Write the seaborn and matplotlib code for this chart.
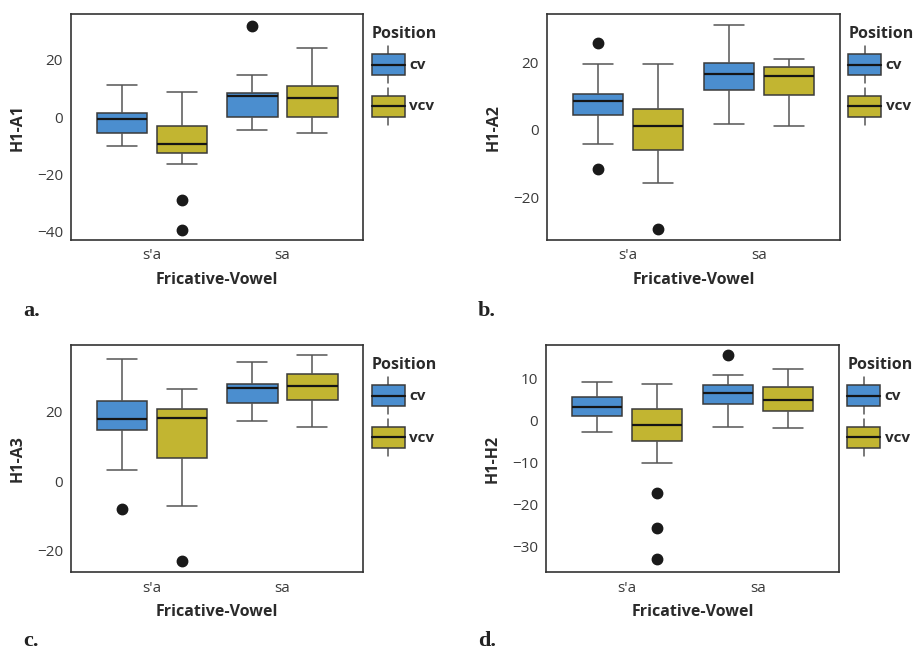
import numpy as np
import pandas as pd
import seaborn as sns
import matplotlib.pyplot as plt
from matplotlib.legend_handler import HandlerBase
from matplotlib.patches import Patch, Rectangle
from matplotlib.lines import Line2D

# values, boxes in order: s'a-cv, s'a-vcv, sa-cv, sa-vcv
measures = ["H1-A1", "H1-A2", "H1-A3", "H1-H2"]
fricatives = ["s'a", "sa"]
positions = ["cv", "vcv"]

whisk_lo = [[-9.9, -16.2, -4.5, -5.3],
            [-4.2, -15.5, 1.9, 1.3],
            [3.1, -7.1, 17.1, 15.4],
            [-2.7, -10.1, -1.6, -1.9]]
q1 = [[-5.6, -12.3, 0.1, 0.1],
      [4.3, -5.8, 11.9, 10.2],
      [14.6, 6.7, 22.2, 23.2],
      [1.0, -4.8, 4.0, 2.3]]
median = [[-0.6, -9.4, 7.6, 6.9],
          [8.4, 1.1, 16.4, 15.9],
          [17.7, 17.9, 26.5, 27.3],
          [3.2, -1.2, 6.5, 4.8]]
q3 = [[1.6, -2.9, 8.6, 10.9],
      [10.7, 6.1, 19.6, 18.6],
      [23.0, 20.6, 27.6, 30.7],
      [5.6, 2.6, 8.5, 7.8]]
whisk_hi = [[11.3, 9.0, 14.7, 24.1],
            [19.3, 19.3, 30.8, 20.8],
            [35.0, 26.3, 33.9, 36.0],
            [9.0, 8.6, 10.8, 12.2]]
outliers = [[[], [-28.8, -39.2], [31.9], []],
            [[25.5, -11.5], [-29.3], [], []],
            [[-8.1], [-22.8], [], []],
            [[], [-17.3, -25.4, -32.8], [15.5], []]]

yticks = [[-40, -20, 0, 20], [-20, 0, 20], [-20, 0, 20], [-30, -20, -10, 0, 10]]
ylims = [(-42.8, 36.0), (-32.4, 34.1), (-26.1, 38.8), (-36.0, 17.8)]
letters = ["a.", "b.", "c.", "d."]

blue = "#4b8ecf"
olive = "#c2b531"


def box_obs(lo, a, m, b, hi, outs):
    # observations whose quartiles / whiskers / fliers give back the summary
    low = sorted(v for v in outs if v < a)
    high = sorted(v for v in outs if v > b)
    k = max(len(low), len(high)) + 1
    return (low + [lo] * (k - len(low)) + [a] * k + [m] + [b] * k
            + [hi] * (k - len(high)) + high)


class BoxHandler(HandlerBase):
    def create_artists(self, legend, orig_handle, xdescent, ydescent,
                       width, height, fontsize, trans):
        x0, y0 = -xdescent, -ydescent
        cx = x0 + width / 2
        w = Line2D([cx, cx], [y0, y0 + height], color="#555555", lw=1.1,
                   transform=trans)
        r = Rectangle((x0, y0 + 0.215 * height), width, 0.57 * height,
                      facecolor=orig_handle.get_facecolor(),
                      edgecolor="#3a3a3a", lw=1.1, transform=trans)
        md = Line2D([x0, x0 + width], [y0 + height / 2] * 2, color="#151515",
                    lw=1.6, transform=trans)
        return [w, r, md]


sns.set_style("white")
plt.rcParams["font.family"] = ["Open Sans", "DejaVu Sans"]

fig = plt.figure(figsize=(9.18, 6.51), dpi=100)
rects = [[0.0777, 0.6313, 0.318, 0.347],
         [0.5962, 0.6313, 0.3185, 0.347],
         [0.0777, 0.1209, 0.318, 0.3487],
         [0.5951, 0.1209, 0.3185, 0.3487]]
letter_xy = [(23, 316), (478, 316), (23, 646), (478, 646)]

for i, name in enumerate(measures):
    rows = []
    j = 0
    for f in fricatives:
        for p in positions:
            obs = box_obs(whisk_lo[i][j], q1[i][j], median[i][j], q3[i][j],
                          whisk_hi[i][j], outliers[i][j])
            rows.append(pd.DataFrame({"Fricative": f, "Position": p, name: obs}))
            j += 1
    df = pd.concat(rows, ignore_index=True)

    ax = fig.add_axes(rects[i])
    sns.boxplot(data=df, x="Fricative", y=name, hue="Position",
                order=fricatives, hue_order=positions,
                palette=[blue, olive], saturation=1, width=0.92, gap=0.16,
                linecolor="#3a3a3a", linewidth=1.1, ax=ax, capwidths=0.23,
                medianprops=dict(color="#151515", linewidth=1.6),
                whiskerprops=dict(color="#555555"),
                capprops=dict(color="#555555"),
                flierprops=dict(marker="o", markerfacecolor="#1a1a1a",
                                markeredgecolor="#1a1a1a", markersize=7.5))
    ax.set_xlim(-0.62, 1.62)
    ax.set_ylim(*ylims[i])
    ax.set_yticks(yticks[i])
    ax.set_yticklabels([str(t).replace("-", "\u2212") for t in yticks[i]])
    ax.tick_params(length=0, labelsize=11, colors="#3a3a3a", pad=6)
    ax.set_xlabel("Fricative-Vowel", fontsize=11.5, fontweight="bold",
                  color="#2a2a2a", labelpad=6)
    ax.set_ylabel(name, fontsize=11.5, fontweight="bold", color="#2a2a2a",
                  labelpad=8)
    for s in ax.spines.values():
        s.set_color("#333333")
        s.set_linewidth(1.2)

    ax.get_legend().remove()
    handles = [Patch(facecolor=blue), Patch(facecolor=olive)]
    leg = ax.legend(handles, positions, title="Position",
                    handler_map={Patch: BoxHandler()},
                    loc="upper left", bbox_to_anchor=(0.99, 1.0),
                    frameon=False, fontsize=11, title_fontsize=11.5,
                    handlelength=2.16, handleheight=3.34, labelspacing=0.3,
                    handletextpad=0.3, borderaxespad=0.2, borderpad=0.55,
                    alignment="left")
    leg.get_title().set_fontweight("bold")
    leg.get_title().set_color("#2a2a2a")
    for t in leg.get_texts():
        t.set_fontweight("bold")
        t.set_color("#2a2a2a")

    lx, ly = letter_xy[i]
    fig.text(lx / 918, 1 - ly / 651, letters[i], fontsize=16, va="baseline",
             fontweight="bold", family="Liberation Serif", color="#222222")

fig.savefig("out.png", dpi=100)
